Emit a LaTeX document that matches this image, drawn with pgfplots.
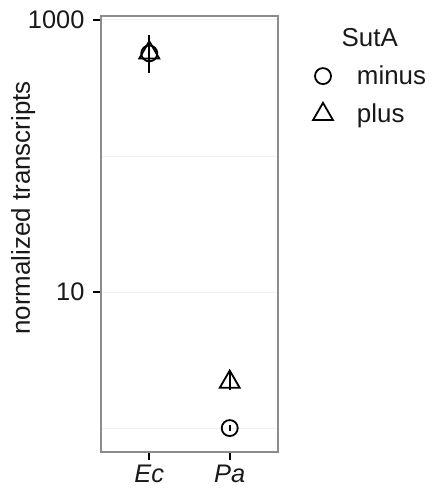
\documentclass[border=0pt]{standalone}
\usepackage{pgfplots}
\pgfplotsset{compat=1.18}
\usepackage{fontspec}
\setmainfont{Liberation Sans}
\definecolor{boxgray}{RGB}{140,140,140}
\definecolor{gridgray}{RGB}{242,242,242}
\begin{document}
\begin{tikzpicture}[x=1bp,y=1bp]
\path[use as bounding box] (-101,-46) rectangle (331,452);
\begin{axis}[
  at={(0,0)}, anchor=south west,
  scale only axis, width=177bp, height=436bp,
  clip=false,
  ymode=log, ymin=0.667, ymax=1070,
  xmin=0.4, xmax=2.6,
  xtick={1,2}, xticklabels={\textit{Ec},\textit{Pa}},
  ytick={10,1000}, yticklabels={10,1000},
  minor ytick={1,100},
  ymajorgrids, yminorgrids,
  major grid style={draw=gridgray, line width=1bp},
  minor grid style={draw=gridgray, line width=1bp},
  minor tick length=0pt,
  tick pos=left, tick align=outside,
  major tick length=8bp,
  tick style={black, line width=1.6bp},
  axis line style={draw=boxgray, line width=2bp},
  /pgf/number format/assume math mode=true,
  tick label style={font=\fontsize{25.5}{30}\selectfont, text=black!90},
  yticklabel style={xshift=-5bp},
  xticklabel style={yshift=-2bp},
  ylabel={normalized transcripts},
  ylabel style={font=\fontsize{26}{31}\selectfont, text=black!90, at={(axis description cs:-0.44,0.56)}, anchor=center},
  legend style={draw=none, fill=none, at={(axis description cs:1.18,0.895)}, anchor=north west,
    font=\fontsize{26}{31}\selectfont, row sep=14bp, text=black!90},
  legend cell align=left,
  error bars/y dir=both, error bars/y explicit,
  error bars/error mark=none,
  error bars/error bar style={black, line width=2bp},
]
\addplot[only marks, mark=o, mark size=8bp, line width=1.8bp, black]
  coordinates {(1,568) += (0,190) -= (0,155)
               (2,1.0) += (0,0.05) -= (0,0.05)};
\addlegendentry{\hspace*{22bp}minus}
\addplot[only marks, mark=triangle, mark size=11.5bp, line width=1.8bp, black]
  coordinates {(1,575) += (0,200) -= (0,165)
               (2,2.18) += (0,0.45) -= (0,0.28)};
\addlegendentry{\hspace*{22bp}plus}
\node[font=\fontsize{26}{31}\selectfont, text=black!90, anchor=west] at (axis description cs:1.34,0.95) {SutA};
\end{axis}
\end{tikzpicture}
\end{document}
